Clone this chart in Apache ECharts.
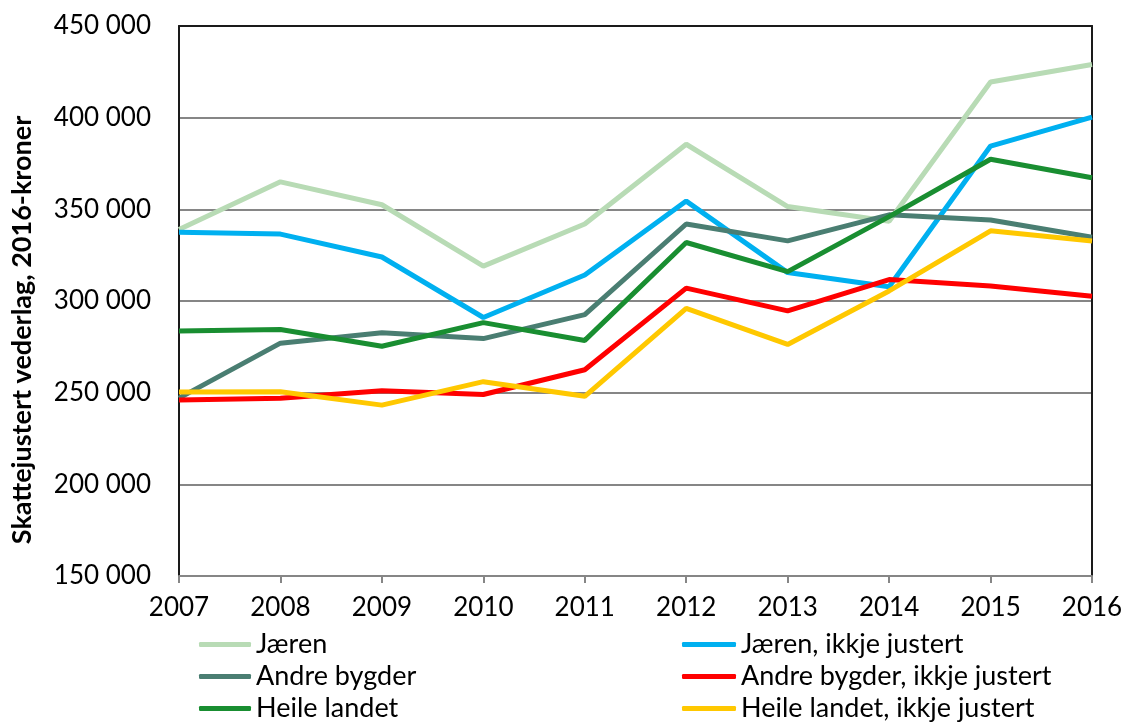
<!DOCTYPE html>
<html>
<head>
    <meta charset="utf-8">
    <title>Skattejustert vederlag</title>
    <script src="https://cdn.jsdelivr.net/npm/echarts@6/dist/echarts.min.js"></script>
    <style>
        html, body { margin: 0; padding: 0; background: #fff; }
    </style>
</head>
<body>
    <div id="main" style="width: 1127px;height:722px;"></div>
    <script type="text/javascript">
        // årstal på x-aksen
        var years = ['2007', '2008', '2009', '2010', '2011', '2012', '2013', '2014', '2015', '2016'];

        // verdiar lesne av figuren (kroner)
        var jaeren         = [339000, 365000, 352500, 319000, 342000, 385500, 351500, 343500, 419500, 429000];
        var jaerenIkkje    = [337500, 336500, 324000, 291000, 314200, 354500, 315500, 307800, 384500, 400300];
        var andre          = [247000, 277000, 282700, 279500, 292600, 342000, 332800, 347000, 344200, 334800];
        var andreIkkje     = [246000, 247000, 251000, 249000, 262500, 307000, 294600, 311700, 308200, 302600];
        var heile          = [283600, 284500, 275300, 288200, 278500, 331900, 316000, 346000, 377300, 367200];
        var heileIkkje     = [250300, 250500, 243200, 256000, 248000, 296000, 276300, 305500, 338300, 332700];

        var yTicks = [150000, 450000, 50000]; // min, max, intervall

        var font = 'Lato, "Open Sans", sans-serif';

        function fmt(v) {
            return String(v).replace(/\B(?=(\d{3})+(?!\d))/g, ' ');
        }

        function line(name, data, color) {
            return {
                name: name,
                type: 'line',
                data: data,
                symbol: 'none',
                lineStyle: { color: color, width: 5 },
                itemStyle: { color: color },
                animation: false
            };
        }

        var myChart = echarts.init(document.getElementById('main'));

        var legendText = { fontFamily: font, fontSize: 27, color: '#000', lineHeight: 27 };

        var option = {
            textStyle: { fontFamily: font },
            grid: { left: 179, right: 35, top: 26, bottom: 146, containLabel: false, outerBoundsMode: 'none' },
            legend: [{
                orient: 'vertical',
                left: 199,
                top: 631,
                height: 100,
                padding: 0,
                icon: 'roundRect',
                itemWidth: 52,
                itemHeight: 5,
                itemGap: 5,
                textStyle: legendText,
                data: ['Jæren', 'Andre bygder', 'Heile landet']
            }, {
                orient: 'vertical',
                left: 682,
                top: 631,
                height: 100,
                padding: 0,
                icon: 'roundRect',
                itemWidth: 54,
                itemHeight: 5,
                itemGap: 5,
                textStyle: legendText,
                data: ['Jæren, ikkje justert', 'Andre bygder, ikkje justert', 'Heile landet, ikkje justert']
            }],
            xAxis: [{
                type: 'category',
                data: years,
                boundaryGap: false,
                axisLine: { lineStyle: { color: '#868686', width: 2 } },
                axisTick: { show: true, length: 7, lineStyle: { color: '#868686', width: 2 } },
                axisLabel: { fontFamily: font, fontSize: 26, color: '#000', margin: 19 }
            }, {
                // øvre ramme
                type: 'category',
                data: years,
                position: 'top',
                boundaryGap: false,
                axisLine: { lineStyle: { color: '#1a1a1a', width: 2 } },
                axisTick: { show: false },
                axisLabel: { show: false }
            }],
            yAxis: [{
                type: 'value',
                min: yTicks[0],
                max: yTicks[1],
                interval: yTicks[2],
                name: 'Skattejustert vederlag, 2016-kroner',
                nameLocation: 'middle',
                nameGap: 143,
                nameRotate: 90,
                nameTextStyle: { fontFamily: font, fontSize: 27, fontWeight: 'bold', color: '#000', padding: [0, 58, 0, 0] },
                axisLine: { show: true, lineStyle: { color: '#1a1a1a', width: 2 } },
                axisTick: { show: false },
                axisLabel: { fontFamily: font, fontSize: 26, color: '#000', margin: 28, formatter: fmt },
                splitLine: { lineStyle: { color: '#868686', width: 2 } }
            }, {
                // høgre ramme
                type: 'value',
                min: yTicks[0],
                max: yTicks[1],
                interval: yTicks[2],
                position: 'right',
                axisLine: { show: true, lineStyle: { color: '#1a1a1a', width: 2 } },
                axisTick: { show: false },
                axisLabel: { show: false },
                splitLine: { show: false }
            }],
            series: [
                line('Jæren', jaeren, '#b8dbb5'),
                line('Jæren, ikkje justert', jaerenIkkje, '#00b0f0'),
                line('Andre bygder', andre, '#4a7e72'),
                line('Andre bygder, ikkje justert', andreIkkje, '#ff0000'),
                line('Heile landet', heile, '#198e31'),
                line('Heile landet, ikkje justert', heileIkkje, '#ffc800')
            ]
        };

        myChart.setOption(option);
    </script>
</body>
</html>
